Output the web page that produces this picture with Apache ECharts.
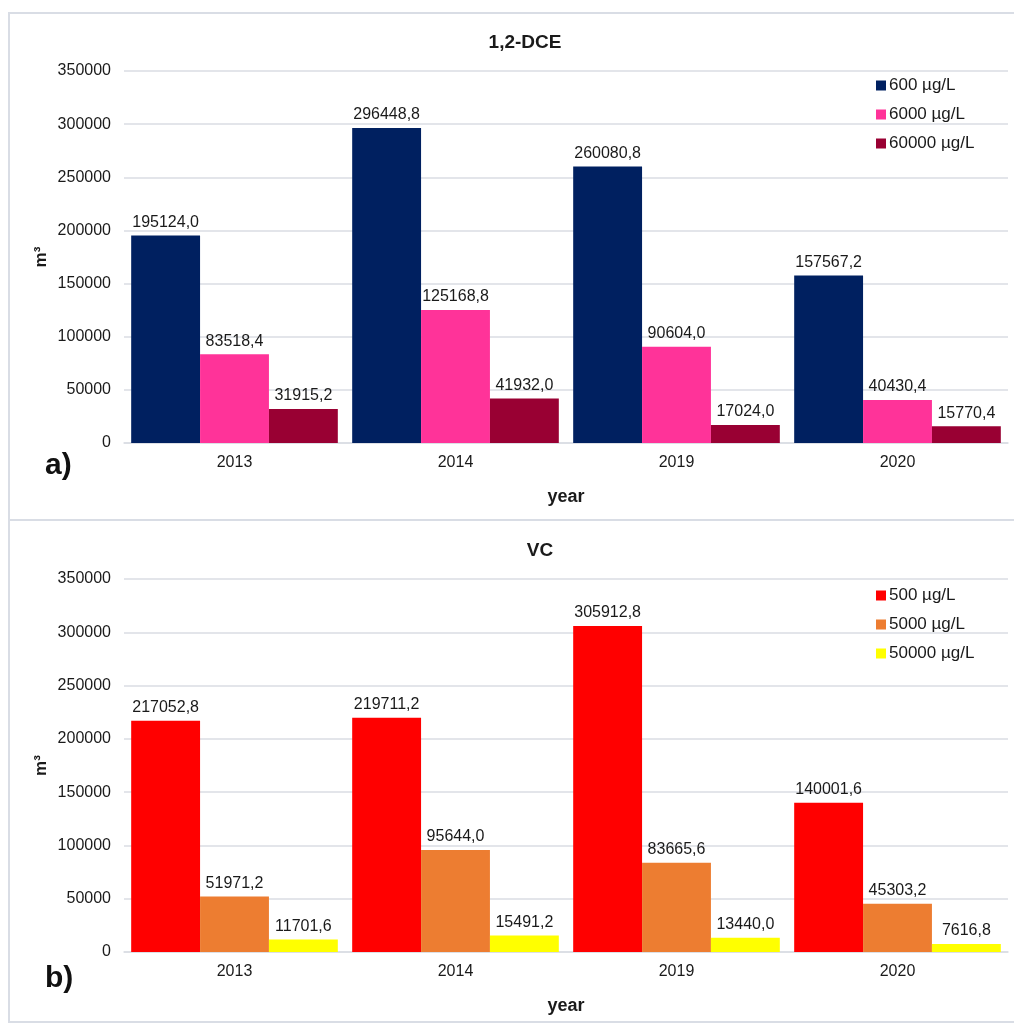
<!DOCTYPE html>
<html>
<head>
<meta charset="utf-8">
<script src="https://cdn.jsdelivr.net/npm/echarts@6/dist/echarts.min.js"></script>
<style>
  html, body { margin: 0; padding: 0; background: #ffffff; }
  #chart { width: 1014px; height: 1024px; }
</style>
</head>
<body>
<div id="chart"></div>
<script>
// Categories (sampling years)
const years = ['2013', '2014', '2019', '2020'];

// 1,2-DCE: volume (m³) above each concentration threshold
const dce600 = [195124.0, 296448.8, 260080.8, 157567.2];
const dce6000 = [83518.4, 125168.8, 90604.0, 40430.4];
const dce60000 = [31915.2, 41932.0, 17024.0, 15770.4];

// VC: volume (m³) above each concentration threshold
const vc500 = [217052.8, 219711.2, 305912.8, 140001.6];
const vc5000 = [51971.2, 95644.0, 83665.6, 45303.2];
const vc50000 = [11701.6, 15491.2, 13440.0, 7616.8];

// Series names
const dceNames = ['600 µg/L', '6000 µg/L', '60000 µg/L'];
const vcNames = ['500 µg/L', '5000 µg/L', '50000 µg/L'];

// Y axis ticks
const yMin = 0, yMax = 350000, yStep = 50000;

const FONT = '"Liberation Sans", Arial, sans-serif';
const GRID_COLOR = '#dadde3';
const TEXT = '#1a1a1a';

const fmt = v => v.toFixed(1).replace('.', ',');

function barSeries(name, data, color, idx) {
  return {
    name: name,
    type: 'bar',
    xAxisIndex: idx,
    yAxisIndex: idx,
    data: data,
    barGap: '0%',
    barCategoryGap: '6.5%',
    itemStyle: { color: color },
    label: {
      show: true,
      position: 'top',
      distance: 5,
      color: TEXT,
      fontFamily: FONT,
      fontSize: 16,
      formatter: p => fmt(p.value)
    }
  };
}

function xAxis(idx) {
  return {
    type: 'category',
    gridIndex: idx,
    data: years,
    axisTick: { show: false },
    axisLine: { lineStyle: { color: GRID_COLOR, width: 1.5 } },
    axisLabel: { color: TEXT, fontFamily: FONT, fontSize: 16, margin: 12 },
    name: 'year',
    nameLocation: 'middle',
    nameGap: 45,
    nameTextStyle: { color: TEXT, fontFamily: FONT, fontSize: 18, fontWeight: 'bold' }
  };
}

function yAxis(idx) {
  return {
    type: 'value',
    gridIndex: idx,
    min: yMin,
    max: yMax,
    interval: yStep,
    axisLine: { show: false },
    axisTick: { show: false },
    splitLine: { lineStyle: { color: GRID_COLOR, width: 1.5 } },
    axisLabel: { color: TEXT, fontFamily: FONT, fontSize: 16, margin: 13, formatter: v => String(v) },
    name: 'm³',
    nameLocation: 'middle',
    nameRotate: 90,
    nameGap: 74,
    nameMoveOverlap: false,
    nameTextStyle: { color: TEXT, fontFamily: FONT, fontSize: 17, fontWeight: 'bold' }
  };
}

const legendCommon = {
  orient: 'vertical',
  left: 871,
  itemWidth: 10,
  itemHeight: 10,
  itemGap: 12,
  icon: 'rect',
  textStyle: { color: TEXT, fontFamily: FONT, fontSize: 17, padding: [0, 0, 0, -2] }
};

const chart = echarts.init(document.getElementById('chart'), null, { renderer: 'canvas' });

chart.setOption({
  backgroundColor: '#ffffff',
  animation: false,
  title: [
    { text: '1,2-DCE', left: 520, top: 28, textAlign: 'center',
      textStyle: { color: TEXT, fontFamily: FONT, fontSize: 19, fontWeight: 'bold' } },
    { text: 'VC', left: 535, top: 536, textAlign: 'center',
      textStyle: { color: TEXT, fontFamily: FONT, fontSize: 19, fontWeight: 'bold' } }
  ],
  legend: [
    Object.assign({}, legendCommon, { data: dceNames, top: 72 }),
    Object.assign({}, legendCommon, { data: vcNames, top: 582 })
  ],
  grid: [
    { left: 124, right: 6, top: 71, height: 372 },
    { left: 124, right: 6, top: 579, height: 373 }
  ],
  xAxis: [xAxis(0), xAxis(1)],
  yAxis: [yAxis(0), yAxis(1)],
  series: [
    barSeries(dceNames[0], dce600, '#002060', 0),
    barSeries(dceNames[1], dce6000, '#ff3399', 0),
    barSeries(dceNames[2], dce60000, '#990033', 0),
    barSeries(vcNames[0], vc500, '#ff0000', 1),
    barSeries(vcNames[1], vc5000, '#ed7d31', 1),
    barSeries(vcNames[2], vc50000, '#ffff00', 1)
  ],
  graphic: [
    { type: 'rect', shape: { x: 9, y: 13, width: 1012, height: 507 },
      style: { fill: 'none', stroke: '#d9dde5', lineWidth: 2 }, silent: true, z: -1 },
    { type: 'rect', shape: { x: 9, y: 520, width: 1012, height: 502 },
      style: { fill: 'none', stroke: '#d9dde5', lineWidth: 2 }, silent: true, z: -1 },
    { type: 'text', left: 45, top: 451,
      style: { text: 'a)', fill: '#111111', font: 'bold 30px ' + FONT } },
    { type: 'text', left: 45, top: 964,
      style: { text: 'b)', fill: '#111111', font: 'bold 30px ' + FONT } }
  ]
});
</script>
</body>
</html>
